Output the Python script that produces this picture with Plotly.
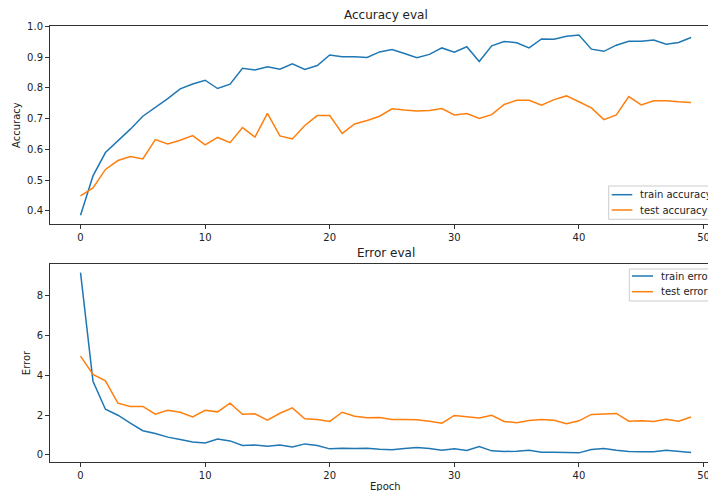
import plotly.graph_objects as go

epochs = list(range(50))

train_accuracy = [0.386, 0.514, 0.590, 0.628, 0.666, 0.708, 0.736, 0.765, 0.797, 0.813,
                  0.825, 0.798, 0.812, 0.864, 0.858, 0.869, 0.861, 0.878, 0.860, 0.873,
                  0.907, 0.901, 0.901, 0.899, 0.917, 0.925, 0.912, 0.898, 0.909, 0.930,
                  0.916, 0.934, 0.886, 0.937, 0.951, 0.947, 0.930, 0.959, 0.958, 0.968,
                  0.972, 0.926, 0.919, 0.939, 0.952, 0.952, 0.956, 0.942, 0.948, 0.964]
test_accuracy = [0.449, 0.475, 0.535, 0.564, 0.577, 0.569, 0.632, 0.618, 0.630, 0.645,
                 0.615, 0.639, 0.622, 0.671, 0.640, 0.717, 0.644, 0.634, 0.678, 0.710,
                 0.710, 0.652, 0.683, 0.694, 0.708, 0.732, 0.728, 0.725, 0.727, 0.733,
                 0.712, 0.717, 0.701, 0.713, 0.746, 0.760, 0.760, 0.744, 0.762, 0.774,
                 0.755, 0.735, 0.697, 0.712, 0.772, 0.745, 0.758, 0.758, 0.755, 0.753]
train_error = [9.16, 3.70, 2.29, 1.99, 1.59, 1.21, 1.07, 0.89, 0.77, 0.65,
               0.60, 0.79, 0.70, 0.47, 0.49, 0.43, 0.50, 0.40, 0.55, 0.47,
               0.30, 0.33, 0.32, 0.33, 0.28, 0.25, 0.32, 0.37, 0.32, 0.23,
               0.30, 0.22, 0.42, 0.20, 0.17, 0.18, 0.23, 0.13, 0.13, 0.12,
               0.10, 0.27, 0.32, 0.23, 0.17, 0.15, 0.15, 0.23, 0.18, 0.12]
test_error = [4.96, 4.04, 3.72, 2.60, 2.43, 2.43, 2.04, 2.24, 2.14, 1.91,
              2.24, 2.16, 2.60, 2.04, 2.06, 1.74, 2.09, 2.36, 1.81, 1.78,
              1.68, 2.14, 1.94, 1.86, 1.88, 1.78, 1.78, 1.76, 1.69, 1.59,
              1.98, 1.90, 1.85, 1.99, 1.68, 1.61, 1.73, 1.78, 1.74, 1.56,
              1.71, 2.03, 2.04, 2.08, 1.69, 1.71, 1.68, 1.79, 1.69, 1.90]

acc_names = ["train accuracy", "test accuracy"]
err_names = ["train error", "test error"]
x_ticks = [0, 10, 20, 30, 40, 50]
acc_ticks = [0.4, 0.5, 0.6, 0.7, 0.8, 0.9, 1.0]
err_ticks = [0, 2, 4, 6, 8]

BLUE = "#1f77b4"
ORANGE = "#ff7f0e"
FONT = "DejaVu Sans"
W, H = 708, 491
ML, MR, MT, MB = 50, 0, 26, 29
PW = W - ML - MR
PH = H - MT - MB


def px_x(p):
    return (p - ML) / PW


def px_y(p):
    return (H - MB - p) / PH


fig = go.Figure()
fig.add_trace(go.Scatter(x=epochs, y=train_accuracy, mode="lines", name=acc_names[0],
                         line=dict(color=BLUE, width=1.5), xaxis="x", yaxis="y"))
fig.add_trace(go.Scatter(x=epochs, y=test_accuracy, mode="lines", name=acc_names[1],
                         line=dict(color=ORANGE, width=1.5), xaxis="x", yaxis="y"))
fig.add_trace(go.Scatter(x=epochs, y=train_error, mode="lines", name=err_names[0],
                         line=dict(color=BLUE, width=1.5), xaxis="x2", yaxis="y2"))
fig.add_trace(go.Scatter(x=epochs, y=test_error, mode="lines", name=err_names[1],
                         line=dict(color=ORANGE, width=1.5), xaxis="x2", yaxis="y2"))

axis_common = dict(showgrid=False, zeroline=False, showline=True, linecolor="#333333",
                   linewidth=1, ticks="outside", ticklen=4, tickcolor="#333333",
                   ticklabeloverflow="allow",
                   tickfont=dict(family=FONT, size=10, color="#222222"))

xr = [-2.45, -2.45 + PW / 12.46]
fig.update_layout(
    width=W, height=H,
    margin=dict(l=ML, r=MR, t=MT, b=MB, autoexpand=False),
    paper_bgcolor="white", plot_bgcolor="white",
    showlegend=False,
    font=dict(family=FONT, size=10, color="#222222"),
    xaxis=dict(domain=[0, 1], range=xr, tickvals=x_ticks, anchor="y", mirror=True, **axis_common),
    yaxis=dict(domain=[px_y(224.3), 1], range=[0.3567, 1.0013], tickvals=acc_ticks,
               tickformat=".1f", anchor="x", mirror=False,
               title=dict(text="Accuracy", font=dict(family=FONT, size=10), standoff=4),
               **axis_common),
    xaxis2=dict(domain=[0, 1], range=xr, tickvals=x_ticks, anchor="y2", mirror=True, **axis_common),
    yaxis2=dict(domain=[0, px_y(264)], range=[-0.36, 9.59], tickvals=err_ticks,
                anchor="x2", mirror=False,
                title=dict(text="Error", font=dict(family=FONT, size=10), standoff=4),
                **axis_common),
)

annotations = [
    dict(text="Accuracy eval", x=24.5, xref="x", y=px_y(15), yref="paper",
         xanchor="center", yanchor="middle", showarrow=False,
         font=dict(family=FONT, size=12, color="#222222")),
    dict(text="Error eval", x=24.5, xref="x2", y=px_y(253.3), yref="paper",
         xanchor="center", yanchor="middle", showarrow=False,
         font=dict(family=FONT, size=12, color="#222222")),
    dict(text="Epoch", x=24.5, xref="x2", y=px_y(486.7), yref="paper",
         xanchor="center", yanchor="middle", showarrow=False,
         font=dict(family=FONT, size=10, color="#222222")),
]
shapes = []


def add_legend(names, colors, box_left, box_top, box_bottom, line_x0, line_x1, text_x, row_ys):
    shapes.append(dict(type="rect", xref="paper", yref="paper",
                       x0=px_x(box_left), x1=px_x(box_left + 120),
                       y0=px_y(box_bottom), y1=px_y(box_top),
                       line=dict(color="#cccccc", width=1),
                       fillcolor="rgba(255,255,255,0.85)", layer="above"))
    for name, col, ry in zip(names, colors, row_ys):
        shapes.append(dict(type="line", xref="paper", yref="paper",
                           x0=px_x(line_x0), x1=px_x(line_x1),
                           y0=px_y(ry), y1=px_y(ry),
                           line=dict(color=col, width=1.5), layer="above"))
        annotations.append(dict(text=name, x=px_x(text_x), xref="paper",
                                y=px_y(ry), yref="paper", xanchor="left", yanchor="middle",
                                showarrow=False, borderpad=0,
                                font=dict(family=FONT, size=10, color="#222222")))


add_legend(acc_names, [BLUE, ORANGE], 608.7, 186, 219.3, 611.7, 632.3, 638.5, [194.7, 210])
add_legend(err_names, [BLUE, ORANGE], 629.3, 269, 301, 632, 653, 659.5, [276, 291.7])

fig.update_layout(annotations=annotations, shapes=shapes)

fig.write_html("out.html",
               config={"displayModeBar": False},
               post_script="document.body.style.margin='0';document.body.style.overflow='hidden';")
